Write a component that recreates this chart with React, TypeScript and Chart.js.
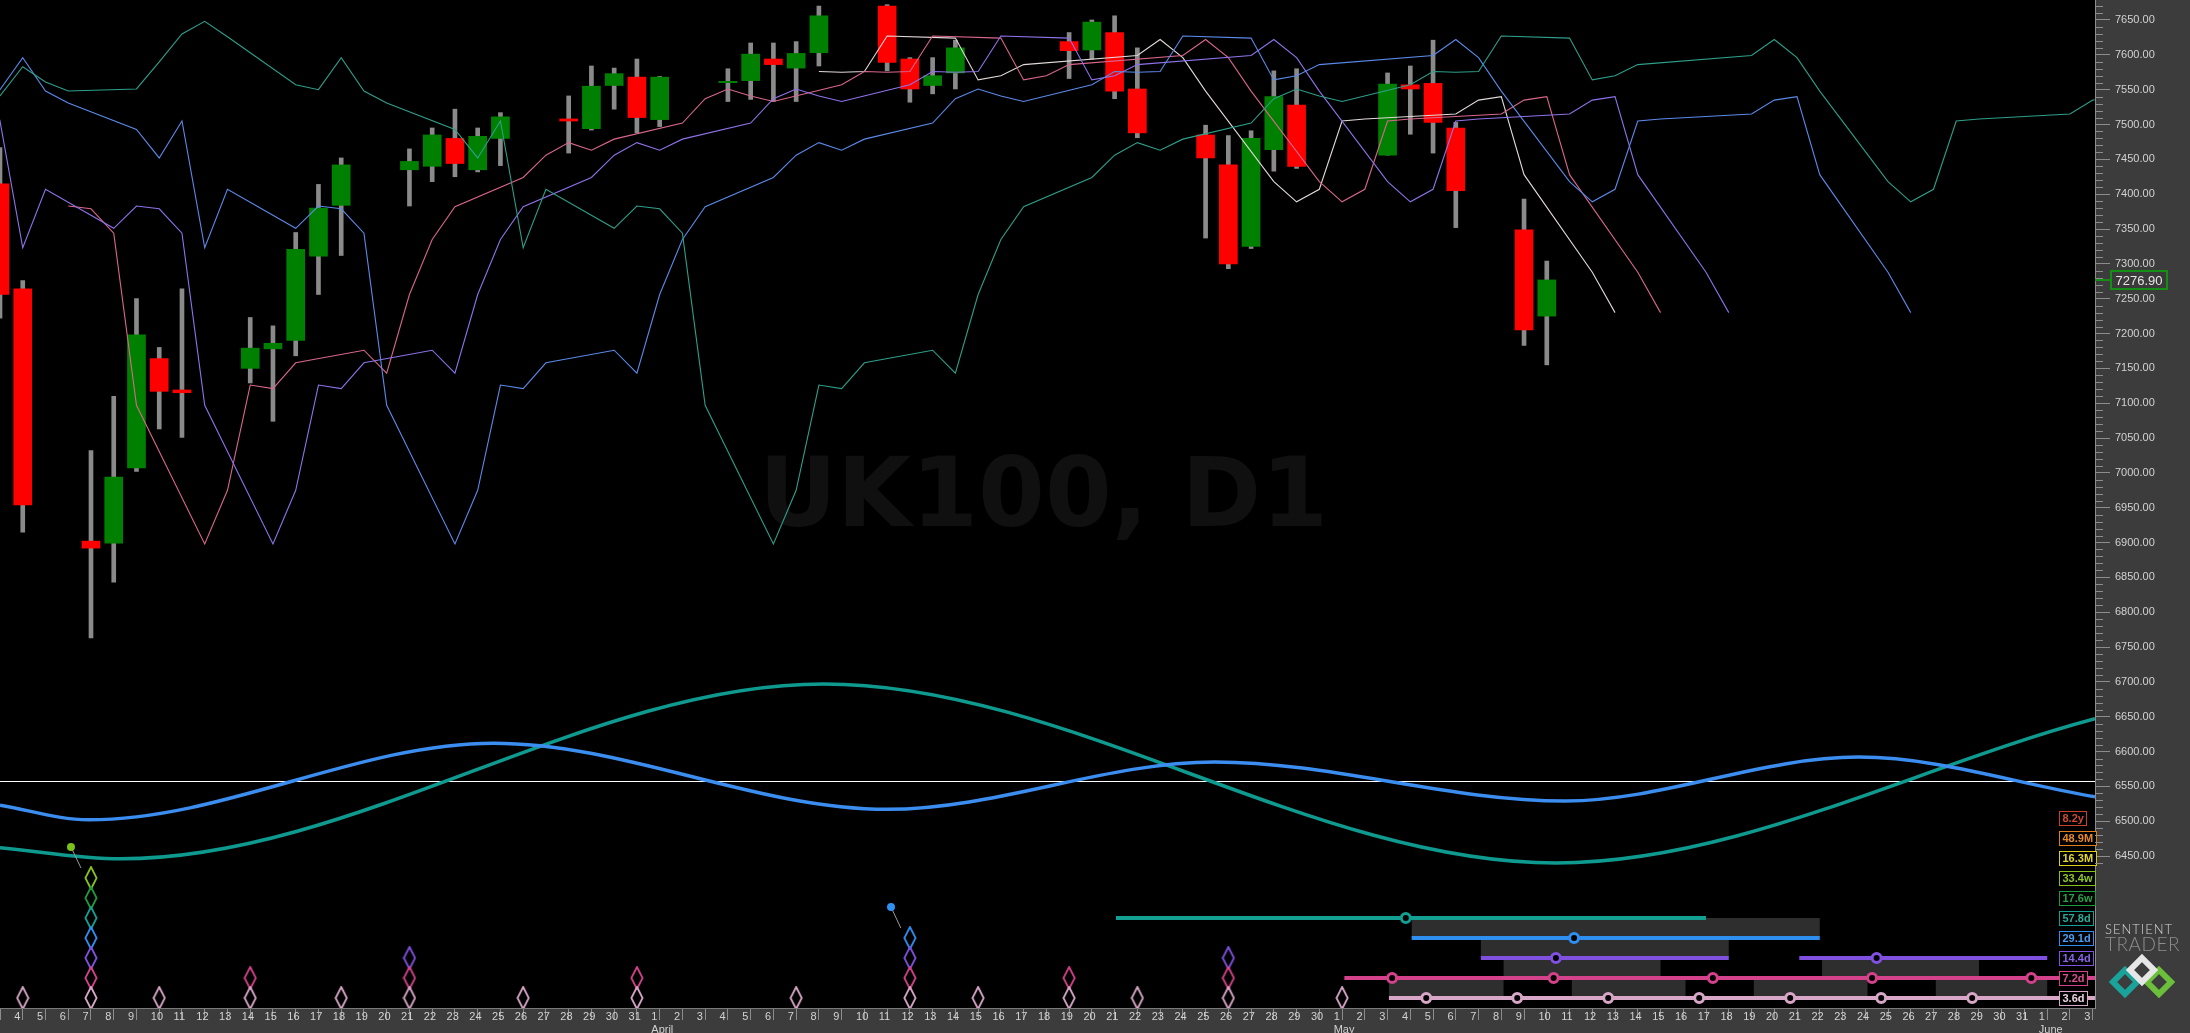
import React, { useEffect, useRef } from 'react';
import { Chart, registerables } from 'chart.js';

Chart.register(...registerables);

// ---------------- data ----------------
// x = calendar day, 0 = Friday 4 March 2022
const firstDay = [2022, 2, 4];
const monthNames = ['January', 'February', 'March', 'April', 'May', 'June', 'July'];
const xMin = -1;
const xMax = 91.1;
const xTickFirst = 0;
const xTickLast = 91;
const priceMin = 6231.9;
const priceMax = 7678.7;
const laneMin = -0.5;
const laneMax = 49.9;
const priceTickValues = [6450, 6500, 6550, 6600, 6650, 6700, 6750, 6800, 6850, 6900, 6950, 7000, 7050, 7100, 7150, 7200, 7250, 7300, 7350, 7400, 7450, 7500, 7550, 7600, 7650];
const watermark = 'UK100, D1';

const candleDays = [-1, 0, 3, 4, 5, 6, 7, 10, 11, 12, 13, 14, 17, 18, 19, 20, 21, 24, 25, 26, 27, 28, 31, 32, 33, 34, 35, 38, 39, 40, 41, 46, 47, 48, 49, 52, 53, 54, 55, 56, 60, 61, 62, 63, 66, 67];
const candleOpen = [7415, 7264, 6902, 6899, 7007, 7164, 7119, 7150, 7178, 7190, 7311, 7384, 7435, 7440, 7480, 7435, 7480, 7508, 7494, 7556, 7568, 7507, 7560, 7563, 7594, 7581, 7603, 7670, 7594, 7556, 7574, 7619, 7607, 7632, 7551, 7485, 7442, 7325, 7464, 7528, 7456, 7557, 7559, 7495, 7349, 7225];
const candleHigh = [7467, 7276, 7032, 7110, 7250, 7180, 7264, 7223, 7211, 7345, 7414, 7452, 7465, 7495, 7522, 7495, 7517, 7541, 7584, 7581, 7594, 7569, 7580, 7617, 7617, 7619, 7670, 7672, 7596, 7596, 7621, 7632, 7650, 7656, 7610, 7499, 7484, 7491, 7577, 7580, 7574, 7584, 7621, 7503, 7393, 7304];
const candleLow = [7222, 6915, 6763, 6843, 7002, 7063, 7051, 7129, 7074, 7168, 7256, 7312, 7383, 7418, 7425, 7432, 7441, 7459, 7492, 7522, 7488, 7497, 7533, 7536, 7533, 7533, 7584, 7577, 7532, 7544, 7551, 7566, 7594, 7537, 7481, 7337, 7293, 7322, 7433, 7437, 7456, 7486, 7459, 7352, 7183, 7155];
const candleClose = [7256, 6954, 6892, 6994, 7198, 7117, 7115, 7179, 7186, 7321, 7380, 7442, 7447, 7485, 7444, 7483, 7511, 7505, 7555, 7573, 7510, 7568, 7562, 7601, 7586, 7602, 7656, 7589, 7551, 7570, 7610, 7606, 7647, 7548, 7488, 7452, 7300, 7480, 7540, 7440, 7558, 7551, 7503, 7405, 7205, 7276.9];
const lastPrice = 7276.9;

const medianDays = [-31, -30, -29, -28, -25, -24, -23, -22, -21, -18, -17, -16, -15, -14, -11, -10, -9, -8, -7, -4, -3, -2, -1, 0, 3, 4, 5, 6, 7, 10, 11, 12, 13, 14, 17, 18, 19, 20, 21, 24, 25, 26, 27, 28, 31, 32, 33, 34, 35, 38, 39, 40, 41, 46, 47, 48, 49, 52, 53, 54, 55, 56, 60, 61, 62, 63, 66, 67];
const medianValues = [7541, 7583, 7561, 7548, 7551, 7590, 7630, 7648, 7626, 7557, 7550, 7596, 7548, 7531, 7493, 7452, 7505, 7323, 7407, 7351, 7383, 7379, 7344, 7097, 6898, 6975, 7126, 7121, 7158, 7176, 7143, 7256, 7335, 7382, 7424, 7456, 7474, 7463, 7479, 7502, 7537, 7551, 7541, 7533, 7557, 7576, 7575, 7576, 7627, 7624, 7564, 7570, 7586, 7599, 7622, 7596, 7548, 7418, 7389, 7407, 7505, 7508, 7515, 7535, 7540, 7428, 7288, 7230];

// FLD lines: median shifted forward by a number of calendar days
const fldNames = ['3.6d FLD', '7.2d FLD', '14.4d FLD', '29.1d FLD', '57.8d FLD'];
const fldShift = [3, 5, 8, 16, 30];
const fldFirstSource = [32, -3, -10, -18, -31];
const fldColors = ['#e4d9d9', '#d9668d', '#8f72ea', '#5b8aea', '#2e9f8a'];

// composite cycle waves (price units)
const waveBlueDays = [-1, 2.9, 20.7, 38.0, 52.4, 67.8, 80.7, 91.1];
const waveBlueValues = [6523, 6502, 6612, 6517, 6585, 6529, 6592, 6535];
const waveTealDays = [-1, 4.3, 35.2, 67.4, 91.1];
const waveTealValues = [6462, 6446, 6697, 6440, 6647];
const waveZero = 6557;

// cycles (lane 0 = shortest)
const cycleLabels = ['3.6d', '7.2d', '14.4d', '29.1d', '57.8d', '17.6w', '33.4w', '16.3M', '48.9M', '8.2y'];
const cycleColors = ['#d8a7c7', '#d3428a', '#8050e0', '#2f8ff0', '#13a092', '#1f9a3c', '#86c21a', '#ddd01e', '#e07e1e', '#c8402a'];
const cycleText = ['#ecd2e2', '#d8508f', '#8a62e6', '#4a9cf2', '#2aaa9c', '#2aa048', '#8ec626', '#e2d630', '#e4882a', '#cc4a34'];

// trough diamonds: day and how many lanes are stacked
const troughDays = [0, 3, 6, 10, 14, 17, 22, 27, 34, 39, 42, 46, 49, 53, 58];
const troughDepth = [1, 7, 1, 2, 1, 3, 1, 2, 1, 4, 1, 2, 1, 3, 1];

// signal markers (dot with a pointer to the diamond column)
const markerDays = [2.12, 38.17];
const markerLanes = [7.55, 4.55];
const markerTipDays = [2.56, 38.6];
const markerTipLanes = [6.5, 3.5];
const markerColors = ['#7cc21a', '#3090f0'];

// projected cycle bars
const barLane = [4, 3, 2, 2, 1, 0];
const barFrom = [48.06, 61.06, 64.1, 78.1, 58.1, 60.06];
const barTo = [74.0, 79.0, 75.0, 89.0, 96, 96];
const barMarks = [[60.8], [68.2], [67.4], [81.5], [60.2, 67.3, 74.3, 81.3, 88.3], [61.7, 65.7, 69.7, 73.7, 77.7, 81.7, 85.7]];

// trough windows (grey boxes between a lane and the lane below it)
const winUpperLane = [4, 3, 2, 2, 1, 1, 1, 1];
const winFrom = [61.06, 64.1, 65.1, 79.1, 60.06, 68.1, 76.1, 84.1];
const winTo = [79.0, 75.0, 72.0, 86.0, 65.1, 73.1, 81.1, 89.0];

// ---------------- styles ----------------
const PANEL = '#3c3c3c';
const AXIS_TEXT = '#d2d2d2';
const TICK = '#8c8c8c';
const UP = '#008000';
const DOWN = '#ff0000';
const WICK = '#8a8a8a';

function dayLabel(d: number): string | string[] {
  const dt = new Date(firstDay[0], firstDay[1], firstDay[2] + Math.round(d));
  const n = dt.getDate();
  return n === 1 ? [String(n), monthNames[dt.getMonth()]] : String(n);
}

function diamondCanvas(color: string) {
  const c = document.createElement('canvas');
  c.width = 14;
  c.height = 24;
  const g = c.getContext('2d')!;
  g.strokeStyle = color;
  g.lineWidth = 1.8;
  g.beginPath();
  g.moveTo(7, 1);
  g.lineTo(12.6, 12);
  g.lineTo(7, 23);
  g.lineTo(1.4, 12);
  g.closePath();
  g.stroke();
  return c;
}

const decor = {
  id: 'decor',
  beforeDraw(chart: any) {
    const { ctx, chartArea: a, width, height } = chart;
    ctx.save();
    ctx.fillStyle = PANEL;
    ctx.fillRect(0, 0, width, height);
    ctx.fillStyle = '#000';
    ctx.fillRect(a.left, a.top, a.right - a.left, a.bottom - a.top);
    ctx.restore();
  },
  beforeDatasetsDraw(chart: any) {
    const { ctx, chartArea: a, scales } = chart;
    ctx.save();
    ctx.beginPath();
    ctx.rect(a.left, a.top, a.right - a.left, a.bottom - a.top);
    ctx.clip();
    ctx.font = 'bold 96px "DejaVu Sans"';
    ctx.fillStyle = '#101010';
    ctx.textAlign = 'center';
    ctx.textBaseline = 'alphabetic';
    ctx.fillText(watermark, (a.left + a.right) / 2 - 4, a.top + (a.bottom - a.top) * 0.522);
    ctx.fillStyle = '#2e2e2e';
    winUpperLane.forEach((lane, i) => {
      const x0 = scales.x.getPixelForValue(winFrom[i]);
      const x1 = scales.x.getPixelForValue(winTo[i]);
      const y0 = scales.lane.getPixelForValue(lane);
      const y1 = scales.lane.getPixelForValue(lane - 1);
      ctx.fillRect(x0, y0, x1 - x0, y1 - y0);
    });
    ctx.restore();
  },
  afterDatasetsDraw(chart: any) {
    const { ctx, chartArea: a, scales } = chart;
    ctx.save();
    ctx.font = 'bold 11px "Liberation Sans"';
    ctx.textBaseline = 'middle';
    ctx.textAlign = 'left';
    cycleLabels.forEach((lbl, i) => {
      const y = Math.round(scales.lane.getPixelForValue(i));
      const w = Math.round(ctx.measureText(lbl).width + 6);
      const x = Math.round(a.right - 36);
      ctx.fillStyle = '#000';
      ctx.fillRect(x, y - 7, w, 15);
      ctx.strokeStyle = cycleColors[i];
      ctx.lineWidth = 1;
      ctx.strokeRect(x + 0.5, y - 6.5, w, 14);
      ctx.fillStyle = cycleText[i];
      ctx.fillText(lbl, x + 3.5, y + 1);
    });
    ctx.restore();
  },
  afterDraw(chart: any) {
    const { ctx, chartArea: a, scales } = chart;
    const ys = scales.y;
    ctx.save();
    // minor price ticks
    ctx.strokeStyle = TICK;
    ctx.lineWidth = 1;
    for (let v = 6440; v <= 7670; v += 10) {
      if (v % 50 === 0) continue;
      const y = Math.round(ys.getPixelForValue(v)) + 0.5;
      ctx.beginPath();
      ctx.moveTo(a.right, y);
      ctx.lineTo(a.right + 8, y);
      ctx.stroke();
    }
    // last price tag
    const py = Math.round(ys.getPixelForValue(lastPrice));
    ctx.strokeStyle = '#139013';
    ctx.lineWidth = 2;
    ctx.beginPath();
    ctx.moveTo(a.right, py);
    ctx.lineTo(a.right + 15, py);
    ctx.stroke();
    ctx.fillStyle = '#3a3a3a';
    ctx.fillRect(a.right + 15, py - 10, 58, 20);
    ctx.strokeRect(a.right + 16, py - 9, 56, 18);
    ctx.fillStyle = '#e6e6e6';
    ctx.font = '13px "Liberation Sans"';
    ctx.textAlign = 'center';
    ctx.textBaseline = 'middle';
    ctx.fillText(lastPrice.toFixed(2), a.right + 44, py + 1);
    // logo
    const lx = a.right + 10;
    ctx.textAlign = 'left';
    ctx.textBaseline = 'alphabetic';
    (ctx as any).letterSpacing = '1px';
    ctx.font = '300 13px Lato';
    ctx.fillStyle = '#d4d4d4';
    ctx.fillText('SENTIENT', lx, a.bottom - 74);
    (ctx as any).letterSpacing = '0.5px';
    ctx.font = '300 19px Lato';
    ctx.fillStyle = '#8e8e8e';
    ctx.fillText('TRADER', lx, a.bottom - 57);
    (ctx as any).letterSpacing = '0px';
    const dia = (cx: number, cy: number, r: number, col: any) => {
      ctx.strokeStyle = col;
      ctx.lineWidth = 6;
      ctx.beginPath();
      ctx.moveTo(cx, cy - r);
      ctx.lineTo(cx + r, cy);
      ctx.lineTo(cx, cy + r);
      ctx.lineTo(cx - r, cy);
      ctx.closePath();
      ctx.stroke();
    };
    const base = a.bottom - 26;
    dia(lx + 20, base, 12, '#1aa39a');
    dia(lx + 54, base, 12, '#6cbf3a');
    dia(lx + 37, base - 12, 12, '#e6e6e6');
    ctx.restore();
  },
};

export default function App() {
  const ref = useRef<HTMLCanvasElement>(null);

  useEffect(() => {
    const canvas = ref.current!;

    const wickData = candleDays.map((d, i) => ({ x: d, y: [candleLow[i], candleHigh[i]] }));
    const bodyData = candleDays.map((d, i) => ({ x: d, y: [candleOpen[i], candleClose[i]] }));
    const bodyColors = candleDays.map((_, i) => (candleClose[i] >= candleOpen[i] ? UP : DOWN));

    const datasets: any[] = [];

    datasets.push({
      type: 'line', label: 'zero', yAxisID: 'y', order: 60,
      data: [{ x: xMin - 1, y: waveZero }, { x: xMax + 1, y: waveZero }],
      borderColor: '#ffffff', borderWidth: 1.2, pointRadius: 0, clip: 0,
    });
    datasets.push({
      type: 'line', label: 'wave teal', yAxisID: 'y', order: 59,
      data: waveTealDays.map((d, i) => ({ x: d, y: waveTealValues[i] })),
      borderColor: '#0f9a90', borderWidth: 3.5, pointRadius: 0, cubicInterpolationMode: 'monotone', clip: 0,
    });
    datasets.push({
      type: 'line', label: 'wave blue', yAxisID: 'y', order: 58,
      data: waveBlueDays.map((d, i) => ({ x: d, y: waveBlueValues[i] })),
      borderColor: '#3b8df0', borderWidth: 3.5, pointRadius: 0, cubicInterpolationMode: 'monotone', clip: 0,
    });

    datasets.push({
      type: 'bar', label: 'wicks', yAxisID: 'y', order: 50, data: wickData,
      backgroundColor: WICK, barThickness: 4, grouped: false, borderWidth: 0,
    });
    datasets.push({
      type: 'bar', label: 'bodies', yAxisID: 'y', order: 49, data: bodyData,
      backgroundColor: bodyColors, barThickness: 18, grouped: false, borderWidth: 0,
    });

    fldShift.forEach((shift, k) => {
      const pts = medianDays
        .map((s, i) => ({ s, v: medianValues[i] }))
        .filter((p) => p.s >= fldFirstSource[k])
        .map((p) => ({ x: p.s + shift, y: p.v }));
      datasets.push({
        type: 'line', label: fldNames[k], yAxisID: 'y', order: 40 - k, data: pts,
        borderColor: fldColors[k], borderWidth: 1.1, pointRadius: 0, tension: 0, clip: 0,
      });
    });

    barLane.forEach((lane, i) => {
      datasets.push({
        type: 'line', label: 'bar ' + i, yAxisID: 'lane', order: 20,
        data: [{ x: barFrom[i], y: lane }, { x: barTo[i], y: lane }],
        borderColor: cycleColors[lane], borderWidth: 4, pointRadius: 0, borderCapStyle: 'butt', clip: 0,
      });
      datasets.push({
        type: 'line', label: 'marks ' + i, yAxisID: 'lane', order: 19, showLine: false,
        data: barMarks[i].map((d) => ({ x: d, y: lane })),
        pointRadius: 4.5, pointBorderWidth: 3, pointBackgroundColor: '#000', pointBorderColor: cycleColors[lane],
      });
    });

    for (let lane = 0; lane < 7; lane++) {
      const pts = troughDays.filter((_, i) => troughDepth[i] > lane).map((d) => ({ x: d, y: lane }));
      datasets.push({
        type: 'line', label: 'troughs ' + lane, yAxisID: 'lane', order: 15, showLine: false,
        data: pts, pointStyle: diamondCanvas(cycleColors[lane]), pointRadius: 8,
      });
    }

    markerDays.forEach((d, i) => {
      datasets.push({
        type: 'line', label: 'pointer ' + i, yAxisID: 'lane', order: 14,
        data: [{ x: d, y: markerLanes[i] }, { x: markerTipDays[i], y: markerTipLanes[i] }],
        borderColor: '#9a9a9a', borderWidth: 1, pointRadius: 0,
      });
      datasets.push({
        type: 'line', label: 'marker ' + i, yAxisID: 'lane', order: 13, showLine: false,
        data: [{ x: d, y: markerLanes[i] }],
        pointRadius: 4, pointBorderWidth: 0, pointBackgroundColor: markerColors[i],
      });
    });

    const chart = new Chart(canvas, {
      type: 'line',
      data: { datasets },
      plugins: [decor],
      options: {
        animation: false,
        responsive: false,
        devicePixelRatio: 1,
        events: [],
        layout: { padding: 0, autoPadding: false },
        plugins: { legend: { display: false }, tooltip: { enabled: false } },
        scales: {
          x: {
            type: 'linear',
            min: xMin,
            max: xMax,
            offset: false,
            afterBuildTicks: (s: any) => {
              const t: any[] = [];
              for (let d = xTickFirst; d <= xTickLast; d++) t.push({ value: d - 0.5 });
              s.ticks = t;
            },
            afterFit: (s: any) => {
              s.height = 25;
              s.paddingLeft = 0;
              s.paddingRight = 0;
            },
            ticks: {
              autoSkip: false,
              maxRotation: 0,
              minRotation: 0,
              align: 'start',
              labelOffset: 3,
              padding: -10,
              color: AXIS_TEXT,
              font: { family: '"Liberation Sans"', size: 11 },
              callback: (v: any) => dayLabel(Number(v) + 0.5),
            },
            grid: { drawOnChartArea: false, drawTicks: true, tickLength: 12, tickColor: TICK, tickWidth: 1 },
            border: { display: true, color: '#7a7a7a', width: 1 },
          },
          y: {
            type: 'linear',
            position: 'right',
            min: priceMin,
            max: priceMax,
            afterBuildTicks: (s: any) => {
              s.ticks = priceTickValues.map((v) => ({ value: v }));
            },
            afterFit: (s: any) => {
              s.width = 95;
              s.paddingTop = 0;
              s.paddingBottom = 0;
            },
            ticks: {
              padding: 5,
              color: AXIS_TEXT,
              font: { family: '"Liberation Sans"', size: 11 },
              callback: (v: any) => Number(v).toFixed(2),
            },
            grid: { drawOnChartArea: false, drawTicks: true, tickLength: 15, tickColor: TICK },
            border: { display: true, color: TICK, width: 1 },
          },
          lane: {
            type: 'linear',
            display: false,
            min: laneMin,
            max: laneMax,
          },
        },
      } as any,
    });

    return () => chart.destroy();
  }, []);

  return (
    <div style={{ position: 'absolute', left: 0, top: 0, width: 2190, height: 1033, background: PANEL }}>
      <canvas ref={ref} width={2190} height={1033} style={{ display: 'block', width: 2190, height: 1033 }} />
    </div>
  );
}
